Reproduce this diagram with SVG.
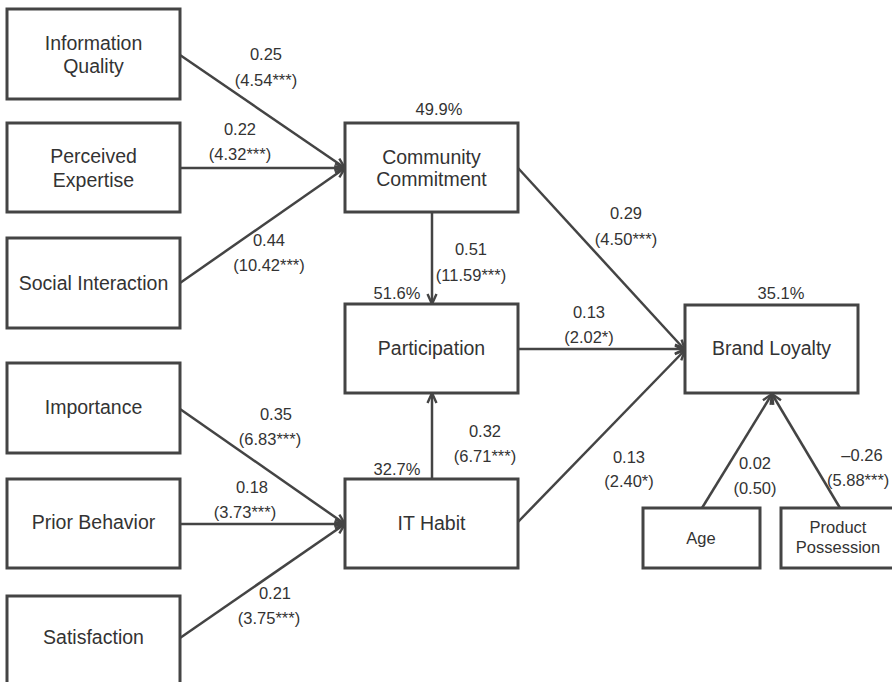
<svg xmlns="http://www.w3.org/2000/svg" width="892" height="682" viewBox="0 0 892 682">
<defs>
<marker id="arr" viewBox="0 0 12 12" refX="11" refY="6" markerWidth="12" markerHeight="12" markerUnits="userSpaceOnUse" orient="auto">
<path d="M1,1.5 L11,6 L1,10.5" fill="none" stroke="#444" stroke-width="2.4" stroke-linejoin="miter"/>
</marker>
</defs>
<style>
.box{fill:#fff;stroke:#444;stroke-width:3}
.nl{font-family:"Liberation Sans",Arial,sans-serif;font-size:19.5px;fill:#333;text-anchor:middle}
.sl{font-family:"Liberation Sans",Arial,sans-serif;font-size:16.5px;fill:#333;text-anchor:middle}
.el{font-family:"Liberation Sans",Arial,sans-serif;font-size:16.5px;fill:#333;text-anchor:middle}
.c{stroke:#444;stroke-width:2.5;fill:none;marker-end:url(#arr)}
</style>
<rect width="892" height="682" fill="#fff"/>
<g id="connectors">
<line class="c" x1="180" y1="55" x2="345" y2="168"/>
<line class="c" x1="180" y1="168" x2="345" y2="168"/>
<line class="c" x1="180" y1="283" x2="345" y2="168"/>
<line class="c" x1="180" y1="409" x2="345" y2="524"/>
<line class="c" x1="180" y1="524" x2="345" y2="524"/>
<line class="c" x1="180" y1="638" x2="345" y2="524"/>
<line class="c" x1="432" y1="212" x2="432" y2="304"/>
<line class="c" x1="432" y1="479" x2="432" y2="393"/>
<line class="c" x1="518" y1="168" x2="685" y2="350"/>
<line class="c" x1="518" y1="349" x2="685" y2="349"/>
<line class="c" x1="518" y1="522" x2="685" y2="350"/>
<line class="c" x1="702" y1="508" x2="772" y2="394"/>
<line class="c" x1="840" y1="508" x2="772" y2="394"/>
</g>
<g id="labels">
<text class="el" x="266" y="60">0.25</text>
<text class="el" x="266" y="86">(4.54***)</text>
<text class="el" x="240" y="135">0.22</text>
<text class="el" x="240" y="160">(4.32***)</text>
<text class="el" x="269" y="246">0.44</text>
<text class="el" x="269" y="271">(10.42***)</text>
<text class="el" x="439" y="115">49.9%</text>
<text class="el" x="397" y="299">51.6%</text>
<text class="el" x="471" y="255">0.51</text>
<text class="el" x="471" y="281">(11.59***)</text>
<text class="el" x="626" y="219">0.29</text>
<text class="el" x="626" y="245">(4.50***)</text>
<text class="el" x="781" y="299">35.1%</text>
<text class="el" x="589" y="318">0.13</text>
<text class="el" x="589" y="343">(2.02*)</text>
<text class="el" x="485" y="437">0.32</text>
<text class="el" x="485" y="462">(6.71***)</text>
<text class="el" x="629" y="463">0.13</text>
<text class="el" x="629" y="487">(2.40*)</text>
<text class="el" x="755" y="469">0.02</text>
<text class="el" x="755" y="494">(0.50)</text>
<text class="el" x="862" y="461">–0.26</text>
<text class="el" x="827" y="486" style="text-anchor:start">(5.88***)</text>
<text class="el" x="276" y="420">0.35</text>
<text class="el" x="270" y="445">(6.83***)</text>
<text class="el" x="252" y="493">0.18</text>
<text class="el" x="245" y="518">(3.73***)</text>
<text class="el" x="275" y="599">0.21</text>
<text class="el" x="269" y="624">(3.75***)</text>
<text class="el" x="397" y="475">32.7%</text>
</g>
<g id="info-quality"><rect class="box" x="7" y="9" width="173" height="90"/><text class="nl" x="93.5" y="50">Information</text><text class="nl" x="93.5" y="73">Quality</text></g>
<g id="perceived-expertise"><rect class="box" x="7" y="123" width="173" height="89"/><text class="nl" x="93.5" y="163">Perceived</text><text class="nl" x="93.5" y="187">Expertise</text></g>
<g id="social-interaction"><rect class="box" x="7" y="238" width="173" height="90"/><text class="nl" x="93.5" y="290">Social Interaction</text></g>
<g id="importance"><rect class="box" x="7" y="363" width="173" height="90"/><text class="nl" x="93.5" y="414">Importance</text></g>
<g id="prior-behavior"><rect class="box" x="7" y="479" width="173" height="89"/><text class="nl" x="93.5" y="529">Prior Behavior</text></g>
<g id="satisfaction"><rect class="box" x="7" y="596" width="173" height="100"/><text class="nl" x="93.5" y="644">Satisfaction</text></g>
<g id="community-commitment"><rect class="box" x="345" y="123" width="173" height="89"/><text class="nl" x="431.5" y="164">Community</text><text class="nl" x="431.5" y="186">Commitment</text></g>
<g id="participation"><rect class="box" x="345" y="304" width="173" height="89"/><text class="nl" x="431.5" y="355">Participation</text></g>
<g id="it-habit"><rect class="box" x="345" y="479" width="173" height="89"/><text class="nl" x="431.5" y="530">IT Habit</text></g>
<g id="brand-loyalty"><rect class="box" x="685" y="305" width="173" height="88"/><text class="nl" x="771.5" y="355">Brand Loyalty</text></g>
<g id="age"><rect class="box" x="643" y="508" width="117" height="60"/><text class="sl" x="701" y="544">Age</text></g>
<g id="product-possession"><rect class="box" x="781" y="508" width="114" height="60"/><text class="sl" x="838" y="533">Product</text><text class="sl" x="838" y="553">Possession</text></g>
</svg>
